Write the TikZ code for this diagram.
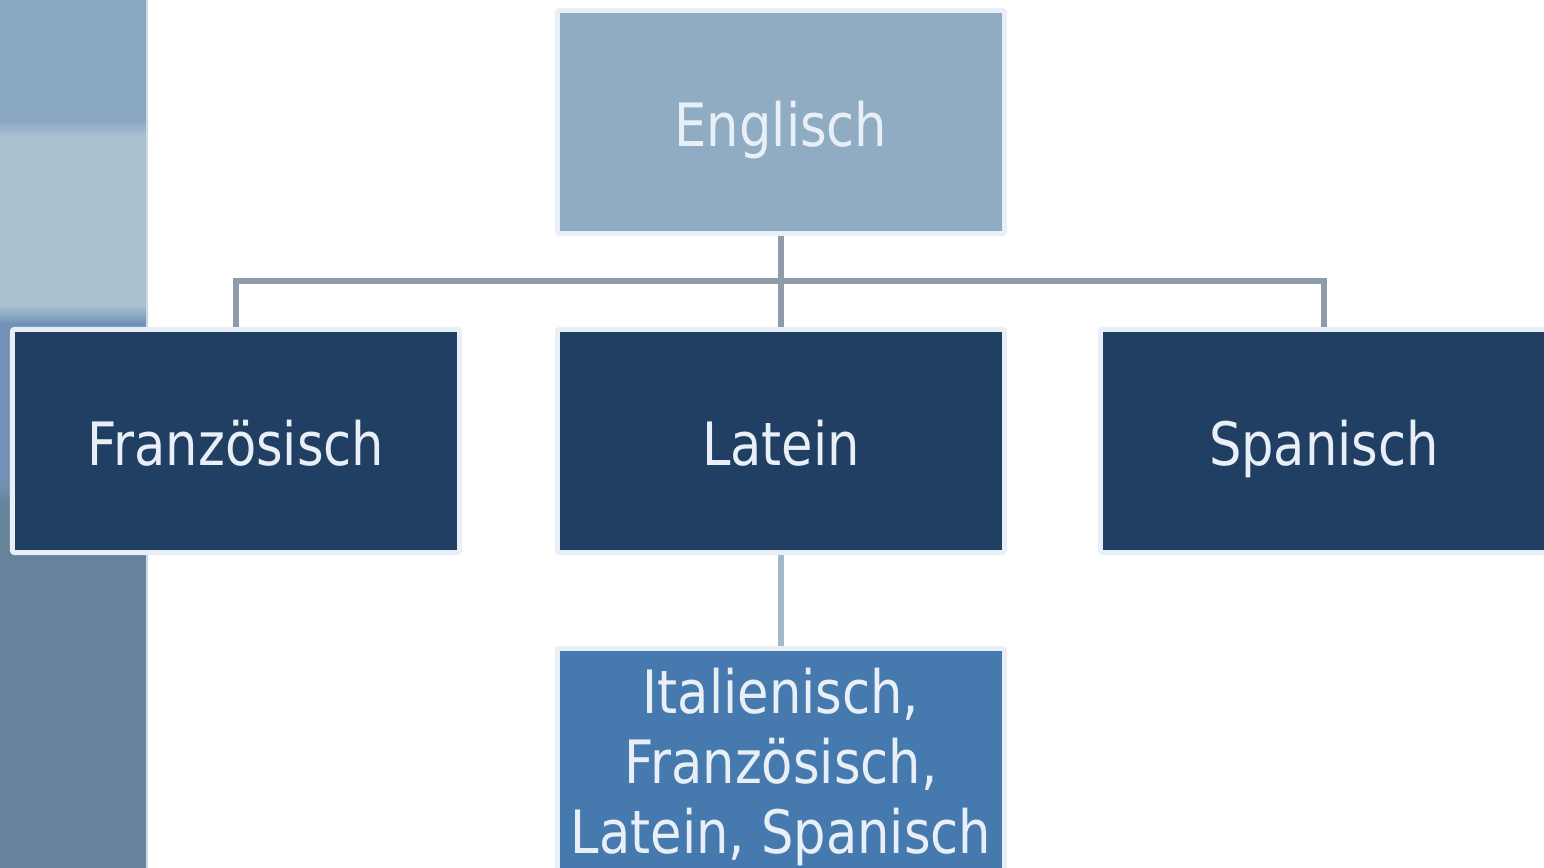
\documentclass[tikz,border=0pt]{standalone}
\usepackage{fontspec}
\setmainfont{DejaVu Sans}[FakeStretch=0.855]
\usepackage{tikz}
\definecolor{engblue}{HTML}{8FACC3}
\definecolor{navy}{HTML}{213F62}
\definecolor{midblue}{HTML}{4679AD}
\definecolor{rimcol}{HTML}{E8EFF7}
\definecolor{linkgray}{HTML}{8E9CA9}
\definecolor{linklight}{HTML}{A5B8C8}
\definecolor{barA}{HTML}{8BA8C3}
\definecolor{barB}{HTML}{A9C0D1}
\definecolor{barC}{HTML}{7191B5}
\definecolor{barD}{HTML}{66839B}

\begin{document}
\begin{tikzpicture}[x=0.01cm,y=-0.01cm,
    box/.style={draw=rimcol,line width=1.4pt,rounded corners=0.6pt,
      minimum width=4.47cm,minimum height=2.23cm,inner sep=0pt,
      text=rimcol,font=\fontsize{17}{19.9}\selectfont},
    oneline/.style={box,text height=17pt,text depth=3.3pt},
    conn/.style={line width=1.6pt,linkgray}]
       \useasboundingbox (0,0) rectangle (1544,868);
       \clip (0,0) rectangle (1544,868);
       % side bar
       \fill[barA] (0,0) rectangle (148,122);
       \shade[top color=barA,bottom color=barB] (0,121) rectangle (148,136);
       \fill[barB] (0,135) rectangle (148,306);
       \shade[top color=barB,bottom color=barC] (0,305) rectangle (148,324);
       \fill[barC] (0,323) rectangle (148,486);
       \shade[top color=barC,bottom color=barD] (0,485) rectangle (148,502);
       \fill[barD] (0,501) rectangle (148,868);
       \draw[line width=0.6pt,barB!60!white] (147,0) -- (147,868);
       % boxes
       \node[oneline,fill=engblue] (eng) at (781,122) {Englisch};
       \node[oneline,fill=navy] (fra) at (236,441) {Französisch};
       \node[oneline,fill=navy] (lat) at (781,441) {Latein};
       \node[oneline,fill=navy] (spa) at (1324,441) {Spanisch};
       \node[box,fill=midblue,align=center,minimum height=2.37cm] (mix) at (781,767)
         {Italienisch,\\ Französisch,\\Latein, Spanisch};
       % links
       \coordinate (bus) at (781,281);
       \draw[conn] (eng.south) -- (lat.north);
       \draw[conn] (fra.north) -- (fra.north |- bus) -- (spa.north |- bus) -- (spa.north);
       \draw[line width=1.6pt,linklight] (lat.south) -- (mix.north);
      \end{tikzpicture}
\end{document}
